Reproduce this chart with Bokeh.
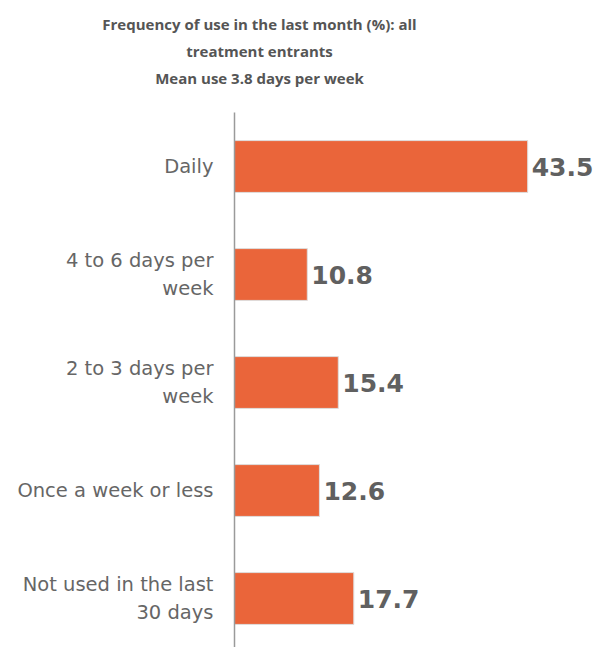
from bokeh.plotting import figure
from bokeh.models import ColumnDataSource, Range1d, Label
from bokeh.core.properties import value
from bokeh.embed import file_html
from bokeh.resources import INLINE

# ---- data ----
categories = ["Daily", "4 to 6 days per\nweek", "2 to 3 days per\nweek",
              "Once a week or less", "Not used in the last\n30 days"]
values = [43.5, 10.8, 15.4, 12.6, 17.7]
title_lines = ["Frequency of use in the last month (%): all",
               "treatment entrants",
               "Mean use 3.8 days per week"]

# ---- layout ----
W, H = 597, 647
px_per_unit = 6.74
axis_px = 234
band_px = 108
first_center_px = 166

x_range = Range1d(-axis_px / px_per_unit, (W - axis_px) / px_per_unit)
top_val = -first_center_px / band_px
y_range = Range1d(top_val + H / band_px, top_val)

p = figure(width=W, height=H, x_range=x_range, y_range=y_range,
           output_backend="svg", toolbar_location=None, min_border=0)
p.xaxis.visible = False
p.yaxis.visible = False
p.xgrid.visible = False
p.ygrid.visible = False
p.outline_line_color = None
p.background_fill_color = "white"
p.border_fill_color = "white"

pos = list(range(len(categories)))
src = ColumnDataSource(dict(
    y=pos, v=values, cat=categories,
    lab=[f"{v:.1f}" for v in values],
    zero=[0] * len(values),
))

# bars
p.hbar(y="y", left=0, right="v", height=0.48, source=src,
       fill_color="#EA653A", line_color="#dedede", line_width=1)

# axis line
p.segment(x0=[0], y0=[-0.5], x1=[0], y1=[len(categories) + 0.5],
          line_color="#9a9a9a", line_width=1.5)

# category labels
p.text(x="zero", y="y", text="cat", source=src, x_offset=-21,
       text_align="right", text_baseline="middle",
       text_font=value("DejaVu Sans"), text_font_size="19.5px",
       text_color="#666666", text_line_height=1.23)

# value labels
p.text(x="v", y="y", text="lab", source=src, x_offset=4,
       text_align="left", text_baseline="middle",
       text_font=value("DejaVu Sans"), text_font_style="bold",
       text_font_size="25px", text_color="#606060")

# title lines
for i, t in enumerate(title_lines):
    p.add_layout(Label(x=259, y=H - 23 - 27 * i, x_units="screen", y_units="screen",
                       text=t, text_align="center", text_baseline="middle",
                       text_font="Open Sans", text_font_style="bold",
                       text_font_size="15px", text_color="#555555"))

open("out.html", "w").write(file_html(p, INLINE))
